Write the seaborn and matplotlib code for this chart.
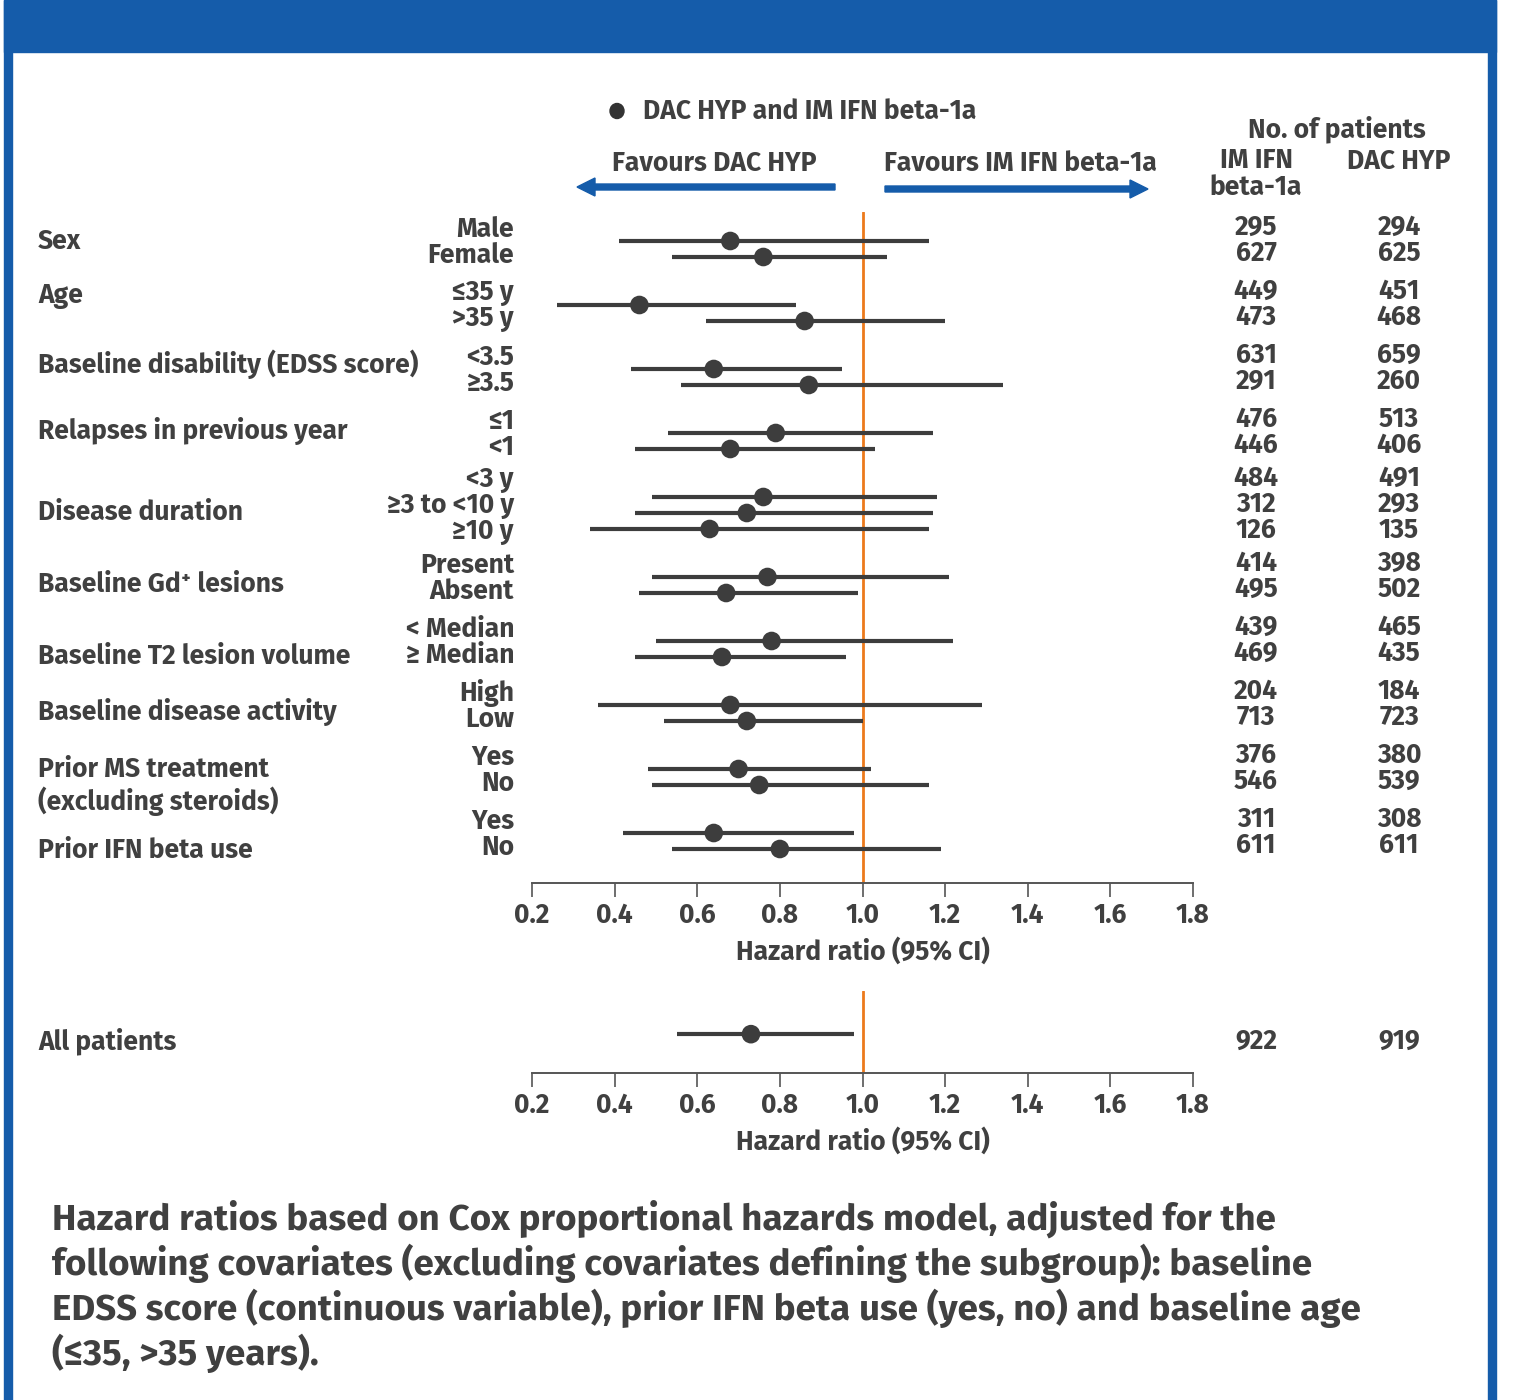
import matplotlib
matplotlib.use("Agg")
import matplotlib.pyplot as plt
import seaborn as sns
import pandas as pd
from matplotlib.patches import Rectangle, FancyArrow, Ellipse

sns.set_theme(style="white")
plt.rcParams['font.family'] = ['Fira Sans', 'DejaVu Sans']
plt.rcParams['font.weight'] = 'bold'

# ---------------- data ----------------
groups = ["Sex", "Age", "Baseline disability (EDSS score)", "Relapses in previous year",
          "Disease duration", "Baseline Gd\u207a lesions", "Baseline T2 lesion volume",
          "Baseline disease activity", "Prior MS treatment\n(excluding steroids)",
          "Prior IFN beta use"]
group_sizes = [2, 2, 2, 2, 3, 2, 2, 2, 2, 2]
subgroups = ["Male", "Female", "\u226435 y", ">35 y", "<3.5", "\u22653.5", "\u22641", "<1",
             "<3 y", "\u22653 to <10 y", "\u226510 y", "Present", "Absent",
             "< Median", "\u2265 Median", "High", "Low", "Yes", "No", "Yes", "No"]
hr = [0.68, 0.76, 0.46, 0.86, 0.64, 0.87, 0.79, 0.68, 0.76, 0.72, 0.63,
      0.77, 0.67, 0.78, 0.66, 0.68, 0.72, 0.70, 0.75, 0.64, 0.80]
ci_low = [0.41, 0.54, 0.26, 0.62, 0.44, 0.56, 0.53, 0.45, 0.49, 0.45, 0.34,
          0.49, 0.46, 0.50, 0.45, 0.36, 0.52, 0.48, 0.49, 0.42, 0.54]
ci_high = [1.16, 1.06, 0.84, 1.20, 0.95, 1.34, 1.17, 1.03, 1.18, 1.17, 1.16,
           1.21, 0.99, 1.22, 0.96, 1.29, 1.00, 1.02, 1.16, 0.98, 1.19]
n_ifn = [295, 627, 449, 473, 631, 291, 476, 446, 484, 312, 126, 414, 495,
         439, 469, 204, 713, 376, 546, 311, 611]
n_dac = [294, 625, 451, 468, 659, 260, 513, 406, 491, 293, 135, 398, 502,
         465, 435, 184, 723, 380, 539, 308, 611]
all_hr, all_low, all_high = 0.73, 0.55, 0.98
all_n_ifn, all_n_dac = 922, 919
x_ticks = [0.2, 0.4, 0.6, 0.8, 1.0, 1.2, 1.4, 1.6, 1.8]
x_ticklabels = ["0.2", "0.4", "0.6", "0.8", "1.0", "1.2", "1.4", "1.6", "1.8"]
caption_lines = ["Hazard ratios based on Cox proportional hazards model, adjusted for the",
                 "following covariates (excluding covariates defining the subgroup): baseline",
                 "EDSS score (continuous variable), prior IFN beta use (yes, no) and baseline age",
                 "(\u226435, >35 years)."]

# ---------------- layout ----------------
W, H = 1516, 1400
TXT = "#404040"
BLUE = "#155caa"
ORANGE = "#ec7a1c"
MARK = "#3d3d3d"
fig = plt.figure(figsize=(W / 100, H / 100), dpi=100)
fig.patch.set_facecolor("white")
renderer = fig.canvas.get_renderer()

def fx(px):
    return px / W

def fy(py):
    return 1 - py / H

def fit_size(text, target_px):
    t = fig.text(0, 0, text, fontsize=10, fontweight="bold")
    w = t.get_window_extent(renderer).width
    t.remove()
    return 10 * target_px / w

FS = fit_size("Baseline disability (EDSS score)", 380)
FSC = fit_size(caption_lines[0], 1229)

# frame
fig.patches.append(Rectangle((fx(4), fy(52)), fx(1496) - fx(4), 52 / H,
                             transform=fig.transFigure, color=BLUE, zorder=0))
fig.patches.append(Rectangle((fx(4), 0), 8 / W, fy(0), transform=fig.transFigure,
                             color=BLUE, zorder=0))
fig.patches.append(Rectangle((fx(1488), 0), 8 / W, fy(0), transform=fig.transFigure,
                             color=BLUE, zorder=0))

# row positions (index units, 16 px per unit)
rows = []
idx = 0
for s in group_sizes:
    for k in range(s):
        rows.append(idx)
        idx += 1
    idx += 2

df = pd.DataFrame({"subgroup": subgroups, "hr": hr, "lo": ci_low, "hi": ci_high,
                   "row": rows, "n_ifn": n_ifn, "n_dac": n_dac})

ROW0_PX, ROW_PX = 241, 16
AX_TOP, AX_BOT = 212, 883
ax = fig.add_axes([fx(532), fy(AX_BOT), (1193 - 532) / W, (AX_BOT - AX_TOP) / H])

def style_axis(a):
    a.set_facecolor("none")
    for sp in ["top", "right", "left"]:
        a.spines[sp].set_visible(False)
    a.spines["bottom"].set_color("#555555")
    a.spines["bottom"].set_linewidth(1.4)
    a.set_yticks([])
    a.set_xticks(x_ticks)
    a.set_xticklabels(x_ticklabels)
    a.tick_params(axis="x", direction="out", length=10, width=1.2, color="#555555",
                  pad=4, labelsize=FS, labelcolor=TXT, bottom=True)
    for t in a.get_xticklabels():
        t.set_fontweight("bold")
    a.set_xlabel("Hazard ratio (95% CI)", fontsize=FS, color=TXT, fontweight="bold",
                 labelpad=6)
    a.set_ylabel("")
    a.grid(False)

ax.hlines(df["row"], df["lo"], df["hi"], color=MARK, linewidth=3, zorder=2)
sns.scatterplot(data=df, x="hr", y="row", ax=ax, color=MARK, s=180,
                edgecolor="none", zorder=3, legend=False)
ax.axvline(1.0, color=ORANGE, linewidth=2, zorder=1)
style_axis(ax)
ax.set_xlim(0.2, 1.8)
ax.set_ylim((AX_BOT - ROW0_PX) / ROW_PX, (AX_TOP - ROW0_PX) / ROW_PX)

# bottom panel: all patients
ax2 = fig.add_axes([fx(532), fy(1073), (1193 - 532) / W, (1073 - 991) / H])
df_all = pd.DataFrame({"hr": [all_hr], "lo": [all_low], "hi": [all_high], "row": [0.0]})
ax2.hlines(df_all["row"], df_all["lo"], df_all["hi"], color=MARK, linewidth=3, zorder=2)
sns.scatterplot(data=df_all, x="hr", y="row", ax=ax2, color=MARK, s=180,
                edgecolor="none", zorder=3, legend=False)
ax2.axvline(1.0, color=ORANGE, linewidth=2, zorder=1)
style_axis(ax2)
ax2.set_xlim(0.2, 1.8)
ax2.set_ylim(0.9, -1.0)

# ---------------- text ----------------
def row_px(r):
    return ROW0_PX + ROW_PX * r

start = 0
for g, s in enumerate(group_sizes):
    rs = rows[start:start + s]
    centre = (row_px(rs[0]) + row_px(rs[-1])) / 2 - 7
    for k in range(s):
        ypx = centre + (k - (s - 1) / 2) * 26
        i = start + k
        fig.text(fx(514), fy(ypx), subgroups[i], ha="right", va="center",
                 fontsize=FS, color=TXT, fontweight="bold")
        fig.text(fx(1256), fy(ypx - 2), str(n_ifn[i]), ha="center", va="center",
                 fontsize=FS, color=TXT, fontweight="bold")
        fig.text(fx(1399), fy(ypx - 2), str(n_dac[i]), ha="center", va="center",
                 fontsize=FS, color=TXT, fontweight="bold")
    start += s

group_label_px = [241, 296, 364, 431, 512, 584, 656, 712, 786, 850]
for g, lab in enumerate(groups):
    fig.text(fx(38), fy(group_label_px[g]), lab, ha="left", va="center",
             fontsize=FS, color=TXT, fontweight="bold", linespacing=1.2)

fig.text(fx(38), fy(1041), "All patients", ha="left", va="center", fontsize=FS,
         color=TXT, fontweight="bold")
fig.text(fx(1256), fy(1041), str(all_n_ifn), ha="center", va="center", fontsize=FS,
         color=TXT, fontweight="bold")
fig.text(fx(1399), fy(1041), str(all_n_dac), ha="center", va="center", fontsize=FS,
         color=TXT, fontweight="bold")

# legend
fig.patches.append(Ellipse((fx(617), fy(111)), 14 / W, 15 / H, transform=fig.transFigure,
                           color="#333333"))
fig.text(fx(643), fy(111), "DAC HYP and IM IFN beta-1a", ha="left", va="center",
         fontsize=FS, color=TXT, fontweight="bold")

# favours arrows
fig.text(fx(714), fy(163), "Favours DAC HYP", ha="center", va="center", fontsize=FS,
         color=TXT, fontweight="bold")
fig.text(fx(1020), fy(163), "Favours IM IFN beta-1a", ha="center", va="center",
         fontsize=FS, color=TXT, fontweight="bold")
fig.patches.append(FancyArrow(fx(835), fy(187), fx(577) - fx(835), 0, width=6 / H,
                              head_width=18 / H, head_length=18 / W,
                              length_includes_head=True, transform=fig.transFigure,
                              color=BLUE))
fig.patches.append(FancyArrow(fx(885), fy(189), fx(1148) - fx(885), 0, width=6 / H,
                              head_width=18 / H, head_length=18 / W,
                              length_includes_head=True, transform=fig.transFigure,
                              color=BLUE))

# column headers
fig.text(fx(1337), fy(129), "No. of patients", ha="center", va="center", fontsize=FS,
         color=TXT, fontweight="bold")
fig.text(fx(1256), fy(174), "IM IFN\nbeta-1a", ha="center", va="center", fontsize=FS,
         color=TXT, fontweight="bold", linespacing=1.0)
fig.text(fx(1399), fy(161), "DAC HYP", ha="center", va="center", fontsize=FS,
         color=TXT, fontweight="bold")

# caption
for line, ypx in zip(caption_lines, [1219, 1263, 1308, 1353]):
    fig.text(fx(52), fy(ypx), line, ha="left", va="center", fontsize=FSC, color=TXT,
             fontweight="bold")

fig.savefig("out.png", dpi=100, facecolor="white")
